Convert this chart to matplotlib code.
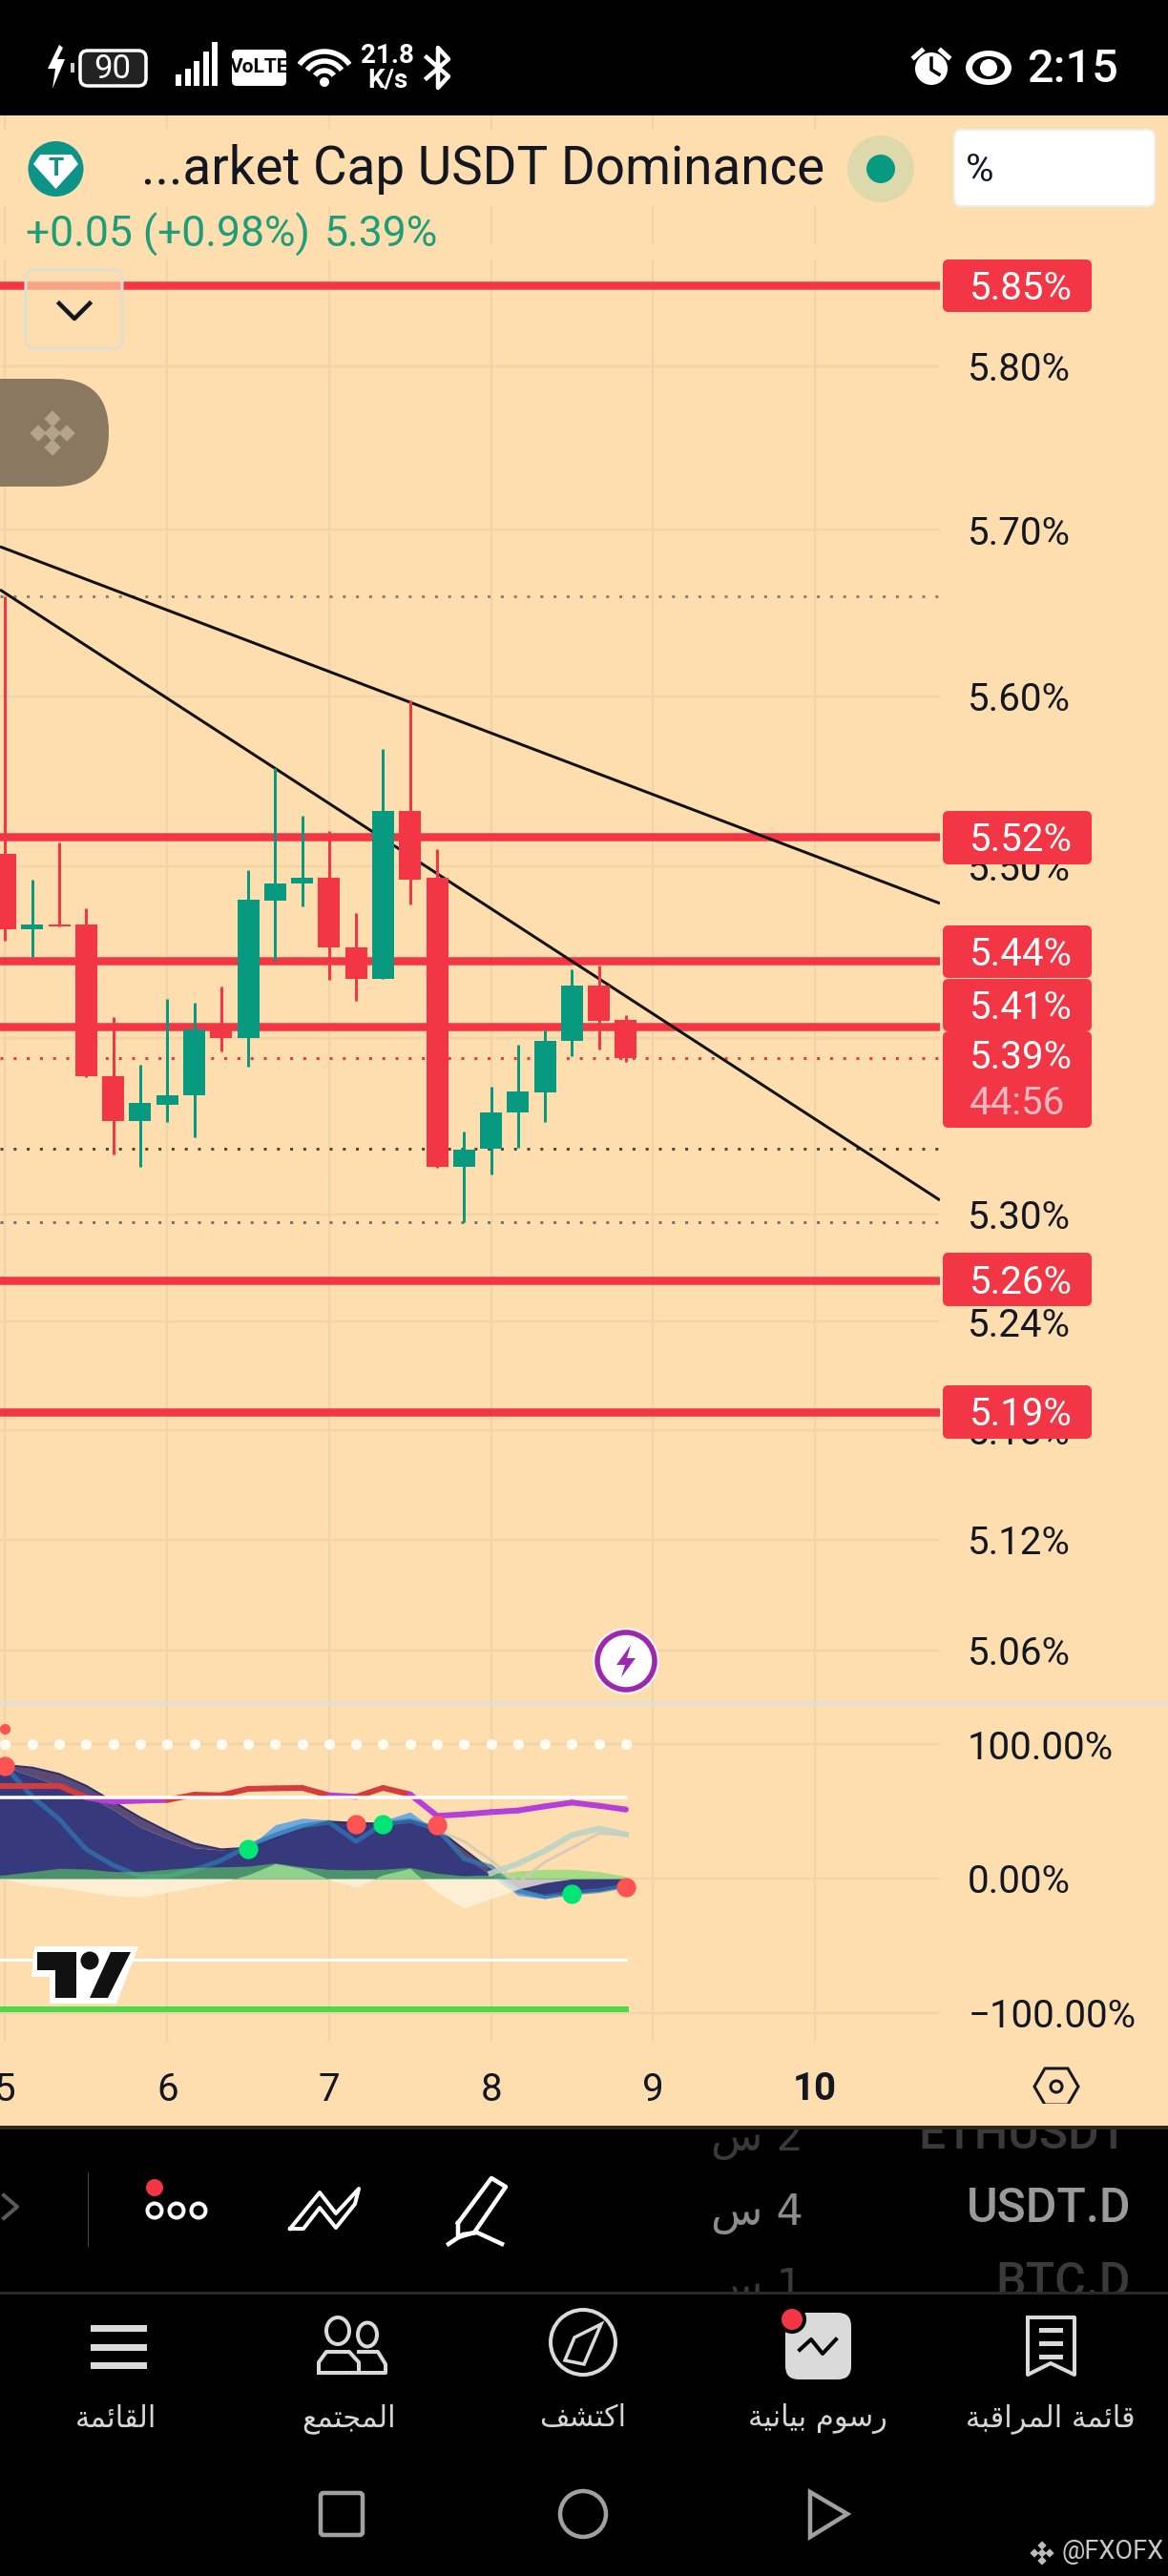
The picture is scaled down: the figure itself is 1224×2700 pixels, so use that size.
import matplotlib
matplotlib.use('Agg')
import matplotlib.pyplot as plt
from matplotlib.patches import Rectangle, FancyBboxPatch, Circle, Ellipse, Polygon, Arc

plt.rcParams['font.family'] = ['Roboto', 'DejaVu Sans']

# 4h candles, x in days of the month
candle_days = [5.0, 5.167, 5.333, 5.5, 5.667, 5.833, 6.0, 6.167, 6.333, 6.5, 6.667, 6.833,
               7.0, 7.167, 7.333, 7.5, 7.667, 7.833, 8.0, 8.167, 8.333, 8.5, 8.667, 8.833]
opens = [5.5069, 5.4633, 5.4659, 5.4659, 5.3785, 5.3531, 5.3623, 5.3673, 5.4052, 5.4005, 5.4799, 5.4895,
         5.4931, 5.4527, 5.4345, 5.5322, 5.4931, 5.3267, 5.337, 5.3576, 5.3693, 5.3984, 5.4306, 5.4105]
highs = [5.66, 5.492, 5.5137, 5.475, 5.4122, 5.3848, 5.4227, 5.4206, 5.4299, 5.4973, 5.5574, 5.5294,
         5.5202, 5.4724, 5.5688, 5.5974, 5.5097, 5.3469, 5.3723, 5.3965, 5.4048, 5.4398, 5.4422, 5.4137]
lows = [5.4563, 5.447, 5.4645, 5.3781, 5.3339, 5.3267, 5.3525, 5.3438, 5.3927, 5.3839, 5.4449, 5.4766,
        5.4337, 5.4217, 5.4345, 5.4775, 5.3263, 5.2958, 5.3228, 5.3376, 5.3525, 5.39, 5.3937, 5.3864]
closes = [5.4633, 5.4659, 5.4648, 5.3785, 5.3531, 5.3632, 5.3675, 5.4052, 5.4005, 5.4803, 5.4897, 5.4931,
          5.4527, 5.4345, 5.5322, 5.4922, 5.3267, 5.3366, 5.3578, 5.3697, 5.3986, 5.4306, 5.4103, 5.3889]

level_prices = [5.85, 5.517, 5.445, 5.407, 5.263, 5.19]
dotted_prices = [5.66, 5.3886, 5.337, 5.2958]
dotted_colors = ['#8a8272', '#F23645', '#4a4a40', '#77736a']
trend_days = [[4.9676, 10.772], [4.9676, 10.772]]
trend_prices = [[5.6898, 5.4781], [5.6638, 5.308]]

price_ticks = [5.80, 5.70, 5.60, 5.50, 5.40, 5.30, 5.24, 5.18, 5.12, 5.06]
price_labels = ['5.80%', '5.70%', '5.60%', '5.50%', '', '5.30%', '5.24%', '5.18%', '5.12%', '5.06%']
day_ticks = [5, 6, 7, 8, 9, 10]
tag_labels = ['5.85%', '5.52%', '5.44%', '5.41%', '5.39%', '5.26%', '5.19%']

# oscillator pane, starts one candle left of the visible edge
osc_ticks = [100, 0, -100]
osc_labels = ['100.00%', '0.00%', '\u2212100.00%']
osc_days = [4.833, 5.0, 5.167, 5.333, 5.5, 5.667, 5.833, 6.0, 6.167, 6.333, 6.5, 6.667, 6.833,
            7.0, 7.167, 7.333, 7.5, 7.667, 7.833, 8.0, 8.167, 8.333, 8.5, 8.667, 8.833]
wave_outer = [85.5, 84.4, 82.5, 77.8, 69, 57.2, 45.4, 35.2, 26, 21.7, 22.9, 30, 37.1,
              42.3, 41.4, 40.7, 43, 37.1, 21.7, 6.4, -6.6, -12.1, -10.6, -9, -5.4]
wave_inner = [85, 83.2, 76.1, 69, 61.9, 51.3, 38.3, 30, 22.9, 21.3, 22.9, 30, 37.1,
              42.3, 41.4, 40.7, 43, 34.8, 15.8, 2.8, -6.6, -12.1, -10.6, -9, -5.4]
wave_light = [0, 0, 0, 0, 0, 0, 0, 0, 0, 0, 22.9, 40, 44.9,
              43.5, 40.7, 43, 49.6, 34.8, 20.6, 1.7, -12.5, -14.9, -10.6, -9, -5.4]
wave_fast = [96, 83.2, 60.8, 44.2, 21.7, 9.9, 1.7, 1.7, 6.4, 13.5, 24.1, 32.4, 39,
             41.8, 27.6, 40.7, 43, 37.1, 14.7, 8.7, -9, -13.5, -10.6, -9, -5.4]
green_band = [1.5, 2.8, 5.2, 7.6, 7.1, 5.2, 5.2, 6.9, 8.3, 8.7, 9.2, 11.6, 8.7,
              6.9, 6.4, 6.9, 8.3, 4, 2.1, 2.8, 5.7, 6.9, 6.9, 5.2, 1.7]
cream_band = [0.5, -0.7, -5, -6.6, -9.7, -12.5, -13.7, -10.2, -6.6, -3.1, 2.8, 11.1, 7.6,
              -0.7, -6.6, 2.8, 7.6, -10.2, -22, -14.9, -7.8, -3.1, -0.2, 0, 0]
pale_days = [8.0, 8.167, 8.333, 8.5, 8.667, 8.833]
pale_teal = [4, 11.1, 20.6, 32.4, 37.1, 32.9]
pale_grey_days = [7.667, 7.833, 8.0, 8.167, 8.333, 8.5, 8.667, 8.833]
pale_grey = [35.9, 27.7, 13.5, -3.1, 12.3, 22.9, 33.6, 32.4]
signal = [69, 69, 69, 69, 60.3, 57.2, 57.9, 58.4, 62.4, 61.9, 66.7, 67.1, 67.4,
          61.9, 60.8, 67.4, 62.6, 46.6, 47.8, 49.4, 50.6, 53.7, 56.5, 54.1, 51.3]
signal_state = list('rrrrppprrrrrrprrppppppppp')
red_dot_days = [5.0, 7.167, 7.667, 8.833]
red_dot_values = [84, 40.7, 39.5, -6.6]
green_dot_days = [6.5, 7.333, 8.5]
green_dot_values = [21.7, 40.2, -11.3]

BG = '#FEDDAE'
RED = '#F23645'
GREEN = '#089981'
GRID = '#F0D5AA'
TEXT = '#131722'
PX = 0.72  # points per pixel at dpi 100
FS = 29

fig = plt.figure(figsize=(12.24, 27), dpi=100, facecolor='black')


def px_axes(x0, y0, x1, y1):
    return fig.add_axes([x0 / 1224, 1 - y1 / 2700, (x1 - x0) / 1224, (y1 - y0) / 2700])


back = px_axes(0, 121, 1224, 2228)
back.set_facecolor(BG)
back.set_xticks([])
back.set_yticks([])
for s in back.spines.values():
    s.set_visible(False)
back.set_zorder(0)

XLIM = (4.9676, 10.772)


def style_pane(ax):
    ax.set_facecolor('none')
    ax.set_zorder(1)
    for s in ax.spines.values():
        s.set_visible(False)
    ax.yaxis.tick_right()
    ax.set_xlim(*XLIM)
    ax.grid(True, color=GRID, lw=2.4 * PX)
    ax.set_axisbelow(True)
    ax.tick_params(axis='both', which='both', length=0)


# main price pane, log scale
ax = px_axes(0, 121, 985, 1784)
ax.set_yscale('log')
style_pane(ax)
ax.set_ylim(5.0323, 5.9566)
ax.minorticks_off()
ax.set_yticks(price_ticks)
ax.set_yticklabels(price_labels, fontsize=FS, color=TEXT, ha='left')
ax.tick_params(axis='y', which='minor', right=False, labelright=False)
ax.tick_params(axis='y', pad=21)
ax.set_xticks(day_ticks)
ax.tick_params(axis='x', labelbottom=False)

for p, c in zip(dotted_prices, dotted_colors):
    ax.axhline(p, color=c, lw=3 * PX, ls=(0, (1, 3.6)), zorder=2)
for p in level_prices:
    ax.axhline(p, color=RED, lw=8.5 * PX, zorder=2.2)
for d, p in zip(trend_days, trend_prices):
    ax.plot(d, p, color='#111111', lw=3 * PX, zorder=2.4, solid_capstyle='butt')

for day, o, h, l, c in zip(candle_days, opens, highs, lows, closes):
    col = GREEN if c >= o else RED
    ax.vlines(day, l, h, color=col, lw=3 * PX, zorder=3)
    ax.bar(day, abs(c - o), bottom=min(o, c), width=23 / 169.7, color=col, lw=0, zorder=3.2)

# oscillator pane
osc = px_axes(0, 1786, 985, 2140)
style_pane(osc)
osc.set_ylim(-121.3, 129.8)
osc.set_yticks(osc_ticks)
osc.set_yticklabels(osc_labels, fontsize=FS, color=TEXT, ha='left')
osc.tick_params(axis='y', pad=21)
osc.set_xticks(day_ticks)
osc.set_xticklabels([str(d) for d in day_ticks], fontsize=FS, color=TEXT)
osc.tick_params(axis='x', pad=22)
osc.get_xticklabels()[-1].set_fontweight('bold')

osc.fill_between(osc_days, 0, wave_light, color='#6EAADF', lw=0, zorder=2)
osc.fill_between(osc_days, 0, wave_inner, color='#363A7C', lw=0, zorder=2.1)
osc.fill_between(osc_days, wave_inner, wave_outer, color='#5A4A78', lw=0, zorder=2.15)
osc.plot(osc_days, wave_outer, color='#2C2F6A', lw=2 * PX, zorder=2.2)
osc.plot(osc_days, wave_fast, color='#2F78B4', lw=5 * PX, alpha=0.7, zorder=2.3)
osc.fill_between(osc_days, 0, cream_band, color='#FFF4E0', alpha=0.75, lw=0, zorder=2.4)
osc.fill_between(osc_days, 0, green_band, color='#5FDC5F', alpha=0.55, lw=0, zorder=2.5)
osc.plot(pale_grey_days, pale_grey, color='#CFC8BC', lw=3 * PX, alpha=0.8, zorder=2.6)
osc.plot(pale_days, pale_teal, color='#B9D3C6', lw=6 * PX, alpha=0.9, zorder=2.6)
for i in range(len(signal) - 1):
    col = '#D53C3E' if signal_state[i] == 'r' else '#B53FD8'
    osc.plot(osc_days[i:i + 2], signal[i:i + 2], color=col, lw=6 * PX, zorder=2.7,
             solid_capstyle='round')
osc.plot([4.9, 8.833], [60, 60], color='white', lw=3.5 * PX, zorder=2.8)
osc.plot([4.9, 8.833], [-60.5, -60.5], color='white', lw=3 * PX, zorder=2.8)
osc.plot([4.9, 8.833], [-97, -97], color='#4FD94A', lw=6 * PX, zorder=2.8)
osc.plot(candle_days, [100] * len(candle_days), ls='none', marker='o', ms=8, mfc='#FFFBF2', mew=0, zorder=3)
osc.plot([5.0], [111.6], ls='none', marker='o', ms=8, mfc='#FF5252', mew=0, zorder=3)
osc.plot(red_dot_days, red_dot_values, ls='none', marker='o', ms=14.6, mfc='#FF5252', mew=0, zorder=3.2)
osc.plot(green_dot_days, green_dot_values, ls='none', marker='o', ms=14.6, mfc='#00E676', mew=0, zorder=3.2)

# everything else is the phone and app chrome, drawn in pixel coordinates
ui = fig.add_axes([0, 0, 1, 1])
ui.set_xlim(0, 1224)
ui.set_ylim(2700, 0)
ui.axis('off')
ui.set_zorder(5)
ui.patch.set_alpha(0)


def rect(x0, y0, x1, y1, color, **kw):
    ui.add_patch(Rectangle((x0, y0), x1 - x0, y1 - y0, fc=color, lw=0, **kw))


def rrect(x0, y0, x1, y1, r, fc, ec='none', lw=0, **kw):
    ui.add_patch(FancyBboxPatch((x0 + r, y0 + r), x1 - x0 - 2 * r, y1 - y0 - 2 * r,
                                boxstyle=f'round,pad={r},rounding_size={r}', fc=fc, ec=ec, lw=lw * PX, **kw))


def line(pts, color='white', w=4, **kw):
    ui.plot([p[0] for p in pts], [p[1] for p in pts], color=color, lw=w * PX, **kw)


def binance(x, y, s, color):
    for dx, dy in [(0, -1), (0, 1), (-1, 0), (1, 0), (0, 0)]:
        cx, cy = x + dx * s, y + dy * s
        r = s * 0.58
        ui.add_patch(Polygon([(cx - r, cy), (cx, cy - r), (cx + r, cy), (cx, cy + r)], fc=color, lw=0))


# arabic shaping by hand: base codepoint of the isolated form, dual joining or not
AR = {'ا': (0xFE8D, False), 'ب': (0xFE8F, True), 'ة': (0xFE93, False), 'ت': (0xFE95, True),
      'ج': (0xFE9D, True), 'ر': (0xFEAD, False), 'س': (0xFEB1, True), 'ش': (0xFEB5, True),
      'ع': (0xFEC9, True), 'ف': (0xFED1, True), 'ق': (0xFED5, True), 'ك': (0xFED9, True),
      'ل': (0xFEDD, True), 'م': (0xFEE1, True), 'ن': (0xFEE5, True), 'و': (0xFEED, False),
      'ي': (0xFEF1, True), 'ئ': (0xFE89, True)}


def shape(word):
    out = []
    for i, ch in enumerate(word):
        if ch not in AR:
            out.append(ch)
            continue
        base, dual = AR[ch]
        prev_joins = i > 0 and word[i - 1] in AR and AR[word[i - 1]][1]
        next_joins = dual and i + 1 < len(word) and word[i + 1] in AR
        if prev_joins and next_joins:
            off = 3
        elif next_joins:
            off = 2
        elif prev_joins:
            off = 1
        else:
            off = 0
        out.append(chr(base + off))
    return ''.join(reversed(out))


# status bar
rect(0, 0, 1224, 121, 'black')
ui.add_patch(Polygon([(62, 47), (50, 72), (58, 72), (55, 93), (68, 62), (60, 62), (66, 50)], fc='white', lw=0))
rect(74, 66, 78, 76, '#cccccc')
rrect(84, 53, 153, 90, 8, '#222222', ec='white', lw=3.5)
ui.text(118, 72, '90', color='white', fontsize=25, ha='center', va='center')
for i, h in enumerate([12, 18, 26, 36, 46]):
    rect(184 + i * 9.6, 90 - h, 190 + i * 9.6, 90, 'white')
rrect(243, 52, 300, 90, 5, 'white')
ui.text(271.5, 71, 'VoLTE', color='black', fontsize=15, fontweight='bold', ha='center', va='center')
for d in [64, 44, 24]:
    ui.add_patch(Arc((340, 86), d, d, theta1=215, theta2=325, color='white', lw=5.5 * PX))
ui.add_patch(Circle((340, 86), 5, fc='white', lw=0))
ui.text(406, 59, '21.8', color='white', fontsize=20, fontweight='bold', ha='center', va='center')
ui.text(406, 84, 'K/s', color='white', fontsize=20, fontweight='bold', ha='center', va='center')
line([(447, 60), (470, 80), (459, 92), (459, 50), (470, 62), (447, 82)], w=4.5)
ui.add_patch(Circle((976, 72), 17, fc='white', lw=0))
line([(976, 61), (976, 73), (984, 78)], color='black', w=3.5)
line([(958, 60), (966, 53)], w=5)
line([(986, 53), (994, 60)], w=5)
ui.add_patch(Ellipse((1036, 71), 48, 36, fc='white', lw=0))
ui.add_patch(Ellipse((1036, 71), 34, 24, fc='black', lw=0))
ui.add_patch(Circle((1036, 71), 9, fc='white', lw=0))
ui.text(1124, 73, '2:15', color='white', fontsize=35, fontweight='medium', ha='center', va='center')

# chart header
rect(0, 135, 985, 216, BG)
rect(0, 256, 985, 272, BG)
ui.add_patch(Circle((58.5, 177), 29, fc='#0D9488', lw=0))
ui.add_patch(Polygon([(42, 162), (75, 162), (82, 172), (58.5, 198), (35, 172)], fc='white', lw=0))
ui.text(58.5, 177, 'T', color='#0D9488', fontsize=19, fontweight='bold', ha='center', va='center')
ui.text(148, 178, '...arket Cap USDT Dominance', color=TEXT, fontsize=39.4, ha='left', va='center')
ui.add_patch(Circle((923, 177), 35, fc='#DDD9AC', lw=0))
ui.add_patch(Circle((923, 177), 15, fc=GREEN, lw=0))
rrect(1000, 136, 1210, 216, 8, 'white', ec='#EFEFEF', lw=2)
ui.text(1012, 178, '%', color=TEXT, fontsize=29, ha='left', va='center')
ui.text(27, 246, '+0.05 (+0.98%)', color='#1E9E78', fontsize=32, ha='left', va='center')
ui.text(340, 246, '5.39%', color='#1E9E78', fontsize=32, ha='left', va='center')
rrect(27, 283, 128, 365, 8, (0.996, 0.867, 0.682, 0.65), ec='#E3DDD0', lw=3)
line([(62, 318), (78, 334), (94, 318)], color='#131722', w=4.5)
rrect(-60, 397, 114, 510, 56, '#8A7860')
binance(55, 454, 15, '#B3A48E')

# price tags on the axis
tag_tops = [272, 850, 970, 1026, 1081, 1313, 1452]
tag_bottoms = [327, 906, 1025, 1081, 1182, 1369, 1508]
for label, t, b in zip(tag_labels, tag_tops, tag_bottoms):
    rrect(988, t, 1144, b, 6, RED)
    yc = (t + b) / 2 + 3 if label != '5.39%' else t + 28
    ui.text(1070, yc, label, color='white', fontsize=FS, ha='center', va='center')
ui.text(1016, 1157, '44:56', color='#F8B9C0', fontsize=FS, ha='left', va='center')

# pane separator, lightning button
rect(0, 1783, 1224, 1787, '#E2DFD8')
ui.add_patch(Circle((656, 1741), 35, fc='#FFF6EA', lw=0))
ui.add_patch(Circle((656, 1741), 30, fc='white', ec='#9C27B0', lw=5.5 * PX))
ui.add_patch(Polygon([(661, 1724), (646, 1745), (655, 1745), (651, 1758), (666, 1738), (657, 1738)], fc='#9C27B0', lw=0))

# tradingview mark
ui.add_patch(Polygon([(36, 2040), (145, 2040), (122, 2100), (52, 2100), (52, 2072), (33, 2072)], fc='white', lw=0))
ui.add_patch(Polygon([(39, 2046), (80, 2046), (80, 2094), (58, 2094), (58, 2065), (39, 2065)], fc='#111111', lw=0))
ui.add_patch(Circle((94, 2055), 9.5, fc='#111111', lw=0))
ui.add_patch(Polygon([(116, 2046), (137, 2046), (113, 2094), (94, 2094)], fc='#111111', lw=0))

# settings hexagon
ui.add_patch(Polygon([(1084, 2187), (1095, 2168), (1119, 2168), (1130, 2187), (1119, 2206), (1095, 2206)],
                     fc='none', ec=TEXT, lw=3 * PX))
ui.add_patch(Circle((1107, 2187), 6, fc='none', ec=TEXT, lw=3 * PX))

# bottom panels, list rows are cut off by the black bands
rect(0, 2228, 1224, 2700, 'black')
ui.text(1182, 2238, 'ETHUSDT', color='#3A3A3A', fontsize=36, fontweight='medium', ha='right', va='center')
ui.text(842, 2242, shape('2 س'), color='#3A3A3A', fontsize=32, family=['DejaVu Sans'], ha='right', va='center')
ui.text(1185, 2315, 'USDT.D', color='#9A9A9A', fontsize=36, fontweight='medium', ha='right', va='center')
ui.text(842, 2320, shape('4 س'), color='#8C8C8C', fontsize=32, family=['DejaVu Sans'], ha='right', va='center')
ui.text(1185, 2393, 'BTC.D', color='#3A3A3A', fontsize=36, fontweight='medium', ha='right', va='center')
ui.text(842, 2398, shape('1 س'), color='#3A3A3A', fontsize=32, family=['DejaVu Sans'], ha='right', va='center')
rect(0, 2222, 1224, 2228, BG)
rect(0, 2215, 1224, 2228, BG)
ui.add_patch(Rectangle((0, 2205), 1224, 27, fc='black', lw=0, zorder=3))
ui.add_patch(Rectangle((0, 2205), 1224, 23, fc=BG, lw=0, zorder=3.1))
ui.add_patch(Rectangle((0, 2228), 1224, 4, fc='#2E261C', lw=0, zorder=3.1))
rect(0, 2404, 1224, 2700, 'black')
ui.patches[-1].set_zorder(3)
rect(0, 2402, 1224, 2405, '#2A2A2A')
ui.patches[-1].set_zorder(3.1)
line([(4, 2301), (18, 2313), (4, 2325)], color='#5A5A5A', w=4)
rect(91.5, 2277, 92.5, 2355, '#444444')
ui.add_patch(Circle((162, 2293), 9, fc=RED, lw=0))
for x in [162, 185, 208]:
    ui.add_patch(Ellipse((x, 2317), 15, 15, fc='none', ec='white', lw=4 * PX))
line([(304, 2336), (335, 2298), (352, 2320), (376, 2294), (372, 2310), (352, 2335), (335, 2314), (318, 2336), (304, 2336)], w=4)
line([(480, 2330), (515, 2283), (530, 2292), (497, 2340), (480, 2345), (480, 2330)], w=4.5)
line([(470, 2352), (485, 2342), (500, 2340), (526, 2352)], w=4.5)

nav_grey = '#DADADA'
NAV_Z = 4
for y in [2440, 2460, 2479]:
    ui.add_patch(Rectangle((95, y - 3.5), 59, 7, fc=nav_grey, lw=0, zorder=NAV_Z))
ui.add_patch(Ellipse((354, 2443), 24, 28, fc='none', ec=nav_grey, lw=4 * PX, zorder=NAV_Z))
ui.add_patch(Ellipse((385, 2447), 20, 25, fc='none', ec=nav_grey, lw=4 * PX, zorder=NAV_Z))
line([(334, 2487), (334, 2476), (342, 2465), (366, 2465), (376, 2476), (376, 2487), (334, 2487)], color=nav_grey, w=4, zorder=NAV_Z)
line([(376, 2487), (404, 2487), (404, 2478), (396, 2465), (376, 2465)], color=nav_grey, w=4, zorder=NAV_Z)
ui.add_patch(Circle((611, 2455), 34, fc='none', ec=nav_grey, lw=4 * PX, zorder=NAV_Z))
ui.add_patch(Polygon([(630, 2436), (612, 2478), (592, 2474), (602, 2450)], fc='none', ec=nav_grey, lw=3.5 * PX, zorder=NAV_Z))
rrect(823, 2424, 892, 2494, 14, nav_grey, zorder=NAV_Z)
ui.add_patch(Circle((830, 2431), 15, fc='black', lw=0, zorder=NAV_Z))
ui.add_patch(Circle((830, 2431), 11, fc=RED, lw=0, zorder=NAV_Z))
line([(838, 2463), (850, 2452), (862, 2467), (876, 2452)], color='black', w=4, zorder=NAV_Z)
line([(1077, 2429), (1126, 2429), (1126, 2489), (1101, 2477), (1077, 2489), (1077, 2429)], color=nav_grey, w=4, zorder=NAV_Z)
for y in [2442, 2456, 2470]:
    ui.add_patch(Rectangle((1089, y - 2.5), 25, 5, fc=nav_grey, lw=0, zorder=NAV_Z))

nav_labels = ['القائمة', 'المجتمع', 'اكتشف', 'رسوم بيانية', 'قائمة المراقبة']
nav_x = [122, 366, 611, 857, 1101]
for s, x in zip(nav_labels, nav_x):
    ui.text(x, 2535, ' '.join(shape(w) for w in reversed(s.split())), color='#D6D6D6', fontsize=22,
            family=['DejaVu Sans'], ha='center', va='center', zorder=NAV_Z)

rrect(336, 2613, 380, 2657, 3, 'black', ec='#A0A0A0', lw=4.5, zorder=NAV_Z)
ui.add_patch(Ellipse((611, 2635), 48, 48, fc='none', ec='#A0A0A0', lw=4.5 * PX, zorder=NAV_Z))
ui.add_patch(Polygon([(849, 2612), (888, 2635), (849, 2659)], fc='none', ec='#A0A0A0', lw=4.5 * PX, zorder=NAV_Z))
binance(1092, 2676, 8, '#BDBDBD')
for p in ui.patches[-5:]:
    p.set_zorder(NAV_Z)
ui.text(1113, 2675, '@FXOFX', color='#C8C8C8', fontsize=19.5, ha='left', va='center', zorder=NAV_Z)

fig.savefig('out.png', dpi=100, facecolor='black')
